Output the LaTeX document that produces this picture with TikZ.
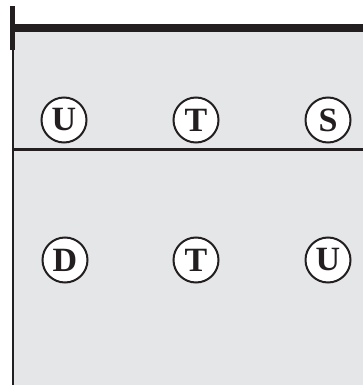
\documentclass[tikz,border=0pt]{standalone}
\usepackage{fontspec}
\setmainfont{Liberation Serif}
\definecolor{bgray}{RGB}{229,230,232}
\definecolor{ink}{RGB}{35,31,32}
\begin{document}
\begin{tikzpicture}[x=1pt,y=-1pt,
  letter/.style={circle,draw=ink,line width=2pt,fill=white,minimum size=45pt,inner sep=0pt,
    font=\fontsize{34}{34}\selectfont\bfseries,text=ink}]
\useasboundingbox (0,0) rectangle (363,385);
\fill[bgray] (14,32) rectangle (363,385);
\fill[ink] (10,6) rectangle (15,50);
\fill[ink] (11.5,50) rectangle (14.2,385);
\fill[ink] (14,24) rectangle (363,32.3);
\fill[ink] (12,147.5) rectangle (363,150.5);
\node[letter] (u1) at (64,120) {U};
\node[letter] (t1) at (196,120) {T};
\node[letter] (s1) at (328,120) {S};
\node[letter] (d2) at (65,260) {D};
\node[letter] (t2) at (196,260) {T};
\node[letter] (u2) at (328,260) {U};
\end{tikzpicture}
\end{document}
